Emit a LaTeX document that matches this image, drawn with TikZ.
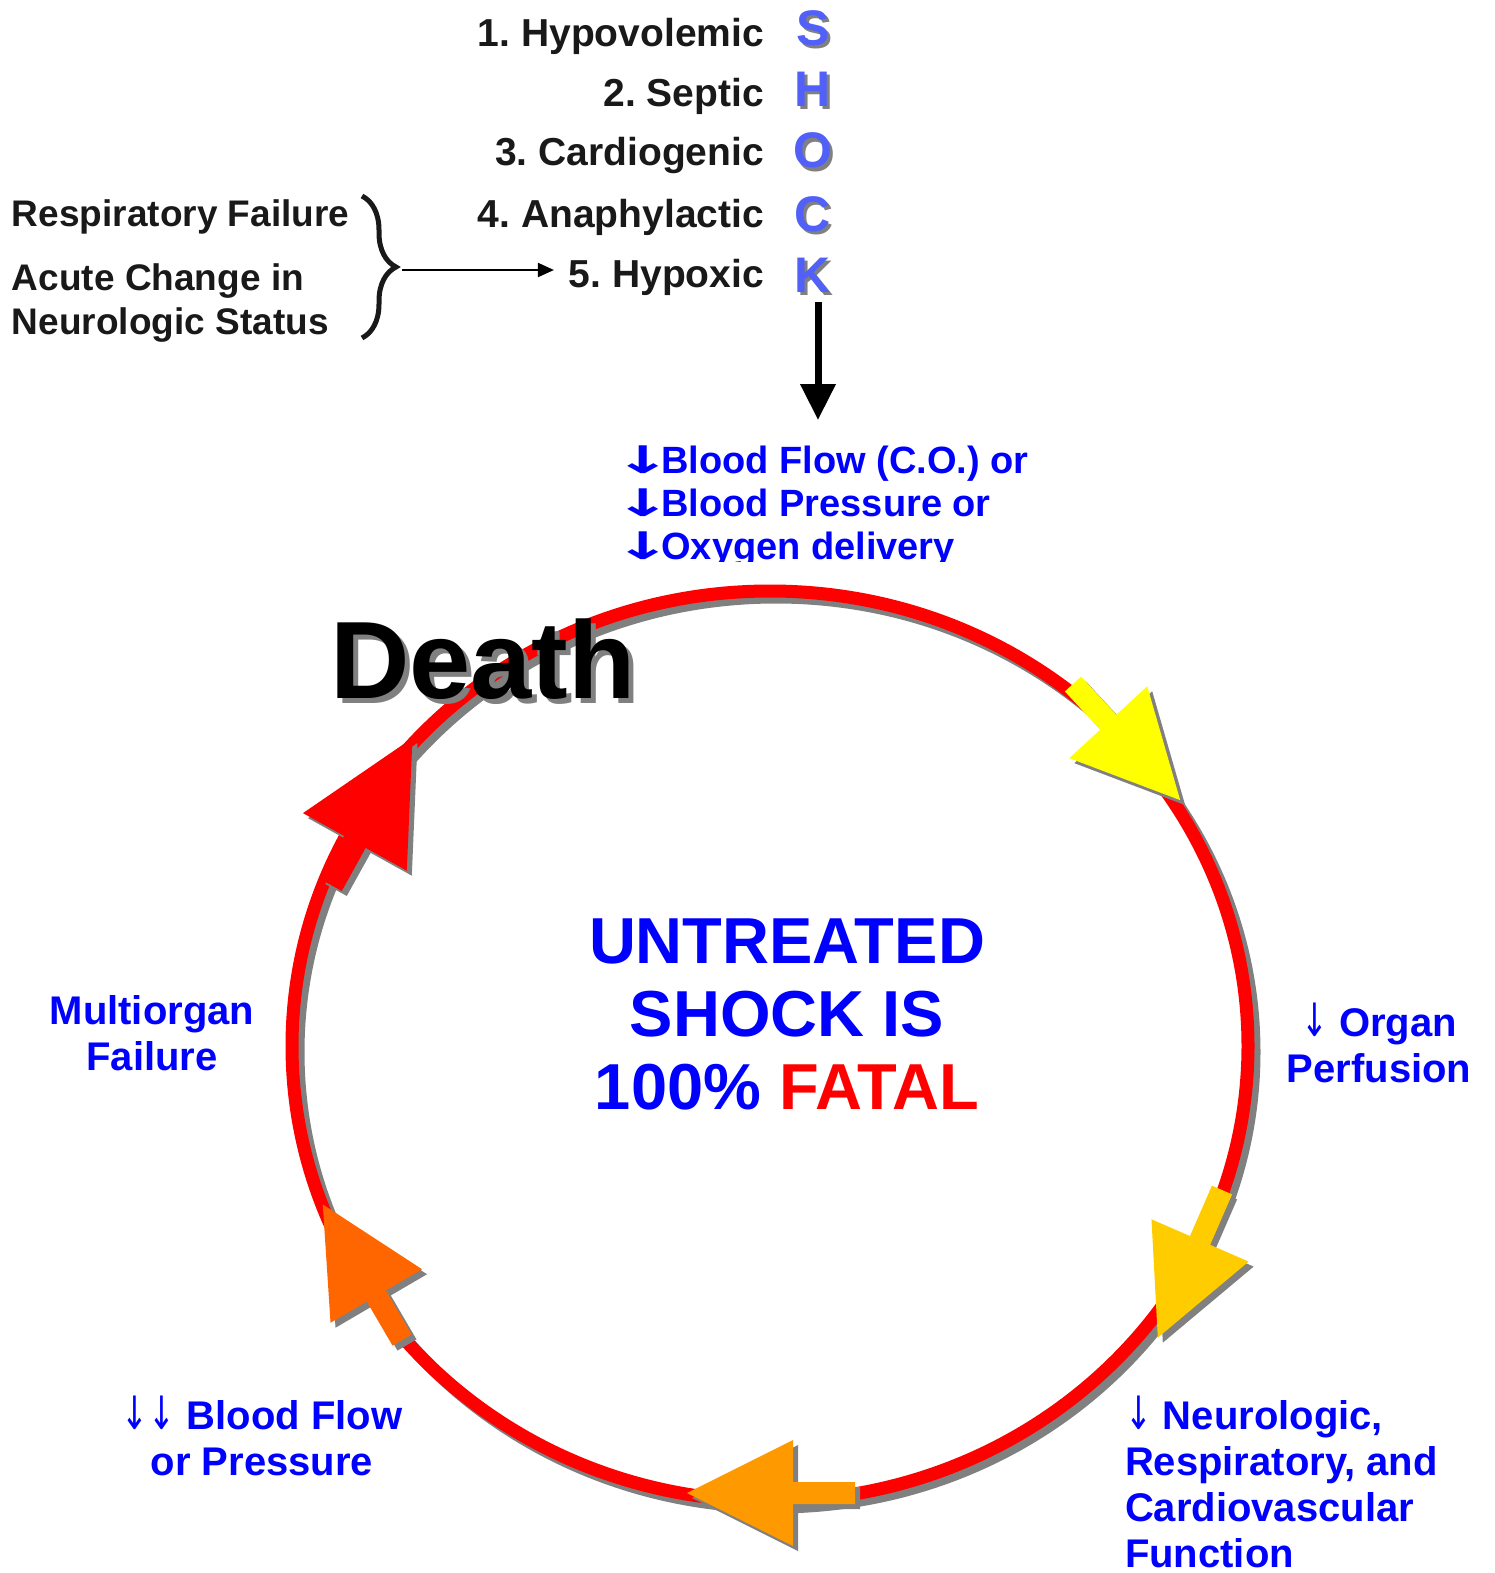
\documentclass[tikz,border=0pt]{standalone}
\usepackage{fontspec}
\setmainfont{Liberation Sans}
\newfontfamily\arrowfont{DejaVu Sans}
\usepackage{graphicx}
\usepackage{tikz}
\usetikzlibrary{arrows.meta,decorations.pathreplacing,calc}
\frenchspacing
\definecolor{shockblue}{RGB}{80,96,248}
\definecolor{shadowgray}{RGB}{128,128,128}
\definecolor{textblue}{RGB}{0,0,255}
\definecolor{ringred}{RGB}{255,0,0}
\definecolor{arrowyellow}{RGB}{255,255,0}
\definecolor{arrowgold}{RGB}{255,204,0}
\definecolor{arroworange}{RGB}{255,153,0}
\definecolor{arrowdark}{RGB}{255,102,0}
\tikzstyle{listitem} = [font=\fontsize{39}{46}\selectfont\bfseries, text=black!90, anchor=base east]
\tikzstyle{shockletter} = [font=\fontsize{50}{60}\selectfont\bfseries, text=shockblue, anchor=base]
\tikzstyle{causetext} = [font=\fontsize{37}{44}\selectfont\bfseries, text=black!90, align=left]
\tikzstyle{stagelabel} = [font=\fontsize{40}{46}\selectfont\bfseries, text=textblue]
\tikzstyle{ring} = [line width=13pt]
\newcommand\shadowed[2]{\makebox[0pt][l]{\hspace*{#1}\raisebox{-#1}{\color{shadowgray}#2}}#2}
\newcommand\thindown{{\arrowfont\mdseries\scalebox{0.8}[1.15]{↓}}}
\newcommand\bolddown{{\arrowfont\scalebox{1.8}[1]{↓}}\hspace*{-10pt}}
% block arrow on the ring: colour, x, y, angle, shaft, scale
\newcommand\cyclearrow[6]{%
  \foreach \dx/\col in {5/shadowgray,0/#1}
    \fill[\col, shift={(#2+\dx,#3+\dx)}, rotate=#4, scale=#6]
      (0,-11) -- (#5,-11) -- (#5,-53) -- (#5+106,0) -- (#5,53) -- (#5,11) -- (0,11) -- cycle;
}

\begin{document}
\begin{tikzpicture}[x=1pt, y=-1pt,
  every node/.style={inner sep=0pt, outer sep=0pt},
  bigarrow/.style={line width=7pt, -{Triangle[length=36pt,width=34pt]}},
  thinarrow/.style={line width=2pt, -{Triangle[length=16pt,width=14pt]}, shorten >=15pt}]
\useasboundingbox (0,0) rectangle (1494,1573);

% types of shock
\node[listitem] (hypo) at (764,47) {1. Hypovolemic};
\node[listitem] (septic) at (764,107) {2. Septic};
\node[listitem] (cardio) at (764,166) {3. Cardiogenic};
\node[listitem] (anaph) at (764,227) {4. Anaphylactic};
\node[listitem] (hypoxic) at (764,287) {5. Hypoxic};
\node[shockletter] (s) at (813,46) {\shadowed{3pt}{S}};
\node[shockletter] (h) at (813,107) {\shadowed{3pt}{H}};
\node[shockletter] (o) at (813,168) {\shadowed{3pt}{O}};
\node[shockletter] (c) at (813,231) {\shadowed{3pt}{C}};
\node[shockletter] (k) at (813,292) {\shadowed{3pt}{K}};

% causes of hypoxic shock
\node[causetext, anchor=base west] (resp) at (12,226) {Respiratory Failure};
\node[causetext, anchor=north west] (neuro) at (12,264) {Acute Change in\\Neurologic Status};
\coordinate (brtop) at (362,196);
\coordinate (brbot) at (362,338);
\coordinate (bracetip) at (402,270);
\draw[decorate, decoration={brace, amplitude=34pt}, line width=5pt, black!90] (brtop) -- (brbot);
\draw[thinarrow] (bracetip) -- (hypoxic.west |- bracetip);

% shock leads to
\coordinate (cause) at (818,420);
\coordinate (shockend) at ($(k.south)+(5,7)$);
\draw[bigarrow] (shockend) -- (cause);
\begin{scope}
  \clip (600,430) rectangle (1100,561);
  \node[stagelabel, font=\fontsize{38}{43}\selectfont\bfseries, anchor=north west, align=left] (flow) at (614,446)
    {\bolddown Blood Flow (C.O.) or\\\bolddown Blood Pressure or\\\bolddown Oxygen delivery};
\end{scope}

% the cycle
\draw[ring, shadowgray] (776,1052) ellipse [x radius=478pt, y radius=455pt];
\draw[ring, ringred] (770,1046) ellipse [x radius=478pt, y radius=455pt];
\cyclearrow{arrowyellow}{1073}{684}{-47.3}{52}{1}
\cyclearrow{arrowgold}{1222}{1190}{-113.5}{55}{1}
\cyclearrow{arroworange}{855}{1493}{180}{62}{1}
\cyclearrow{arrowdark}{402}{1340}{120.3}{51}{1}
\cyclearrow{ringred}{331}{885}{61}{44}{1.12}

\node[anchor=base west, font=\fontsize{110}{120}\selectfont\bfseries, text=black] (death) at (330,698) {\shadowed{5pt}{Death}};
\node[stagelabel, font=\fontsize{65}{73}\selectfont\bfseries, align=center, anchor=north] (untreated) at (787,919)
  {UNTREATED\\SHOCK IS\\100\% \textcolor{ringred}{FATAL}};
\node[stagelabel, align=center, anchor=north] (perfusion) at (1379,1003) {\thindown{} Organ\\Perfusion};
\node[stagelabel, align=left, anchor=north west] (function) at (1125,1396)
  {\thindown{} Neurologic,\\Respiratory, and\\Cardiovascular\\Function};
\node[stagelabel, align=center, anchor=north] (pressure) at (262,1396) {\thindown\thindown{} Blood Flow\\or Pressure};
\node[stagelabel, align=center, anchor=north] (multiorgan) at (152,996) {Multiorgan\\Failure};
\end{tikzpicture}
\end{document}
